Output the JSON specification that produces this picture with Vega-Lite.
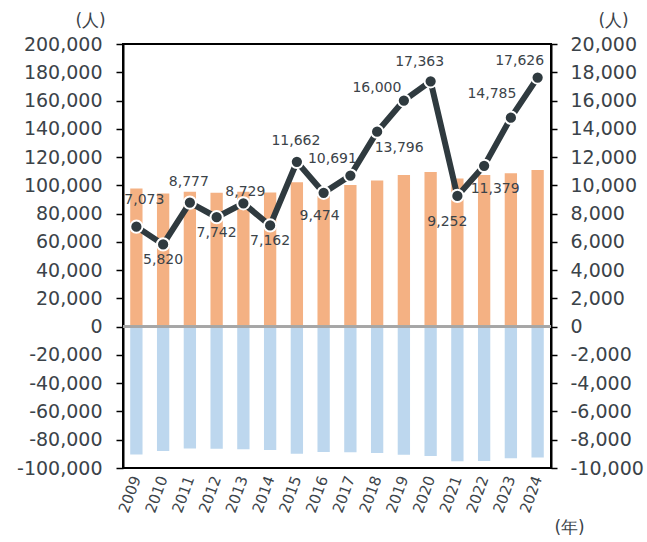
{
  "$schema": "https://vega.github.io/schema/vega-lite/v6.json",
  "width": 428,
  "height": 424,
  "autosize": {"type": "none"},
  "padding": {"left": 123, "top": 44, "right": 96, "bottom": 74},
  "config": {
    "view": {"stroke": "#000000", "strokeWidth": 2},
    "font": "DejaVu Sans",
    "axis": {"grid": false, "labelFont": "DejaVu Sans", "titleFont": "DejaVu Sans", "labelColor": "#3B4349", "titleColor": "#3B4349", "titleFontWeight": "normal"}
  },
  "data": {
    "values": [
      {"year": "2009", "inflow": 97800, "outflow": -90500, "net": 7073},
      {"year": "2010", "inflow": 94200, "outflow": -87900, "net": 5820},
      {"year": "2011", "inflow": 95400, "outflow": -86200, "net": 8777},
      {"year": "2012", "inflow": 94700, "outflow": -86400, "net": 7742},
      {"year": "2013", "inflow": 95400, "outflow": -86700, "net": 8729},
      {"year": "2014", "inflow": 94900, "outflow": -87200, "net": 7162},
      {"year": "2015", "inflow": 102100, "outflow": -90000, "net": 11662},
      {"year": "2016", "inflow": 92500, "outflow": -88600, "net": 9474},
      {"year": "2017", "inflow": 100200, "outflow": -88800, "net": 10691},
      {"year": "2018", "inflow": 103500, "outflow": -89300, "net": 13796},
      {"year": "2019", "inflow": 107300, "outflow": -90700, "net": 16000},
      {"year": "2020", "inflow": 109400, "outflow": -91500, "net": 17363},
      {"year": "2021", "inflow": 104900, "outflow": -95200, "net": 9252},
      {"year": "2022", "inflow": 107300, "outflow": -95000, "net": 11379},
      {"year": "2023", "inflow": 108500, "outflow": -93100, "net": 14785},
      {"year": "2024", "inflow": 110800, "outflow": -92600, "net": 17626}
    ]
  },
  "encoding": {
    "x": {
      "field": "year", "type": "nominal", "sort": null,
      "scale": {"paddingInner": 0.54, "paddingOuter": 0.27},
      "axis": {
        "orient": "bottom", "title": "(年)", "labelAngle": -70, "labelFontSize": 15,
        "labelAlign": "right", "labelBaseline": "middle", "labelPadding": 8,
        "ticks": false, "domain": false,
        "titleFontSize": 17, "titleAngle": 0, "titleAnchor": null, "titleX": 446, "titleY": 59,
        "titleAlign": "center", "titleBaseline": "middle"
      }
    }
  },
  "layer": [
    {
      "encoding": {
        "y": {
          "type": "quantitative",
          "scale": {"domain": [-100000, 200000], "nice": false, "zero": false},
          "axis": {
            "orient": "left", "title": "(人)",
            "values": [-100000, -80000, -60000, -40000, -20000, 0, 20000, 40000, 60000, 80000, 100000, 120000, 140000, 160000, 180000, 200000],
            "labelExpr": "replace(format(datum.value, ','), '−', '-')",
            "labelFontSize": 19, "labelPadding": 14, "labelFlush": false, "labelOverlap": false,
            "domainColor": "#000000", "domainWidth": 2, "tickColor": "#000000", "tickSize": 7, "tickWidth": 1.5,
            "titleAngle": 0, "titleFontSize": 17, "titleX": -33, "titleY": -24, "titleAlign": "center", "titleBaseline": "middle"
          }
        }
      },
      "layer": [
        {"mark": {"type": "bar", "color": "#F4B183"}, "encoding": {"y": {"field": "inflow", "type": "quantitative"}}},
        {"mark": {"type": "bar", "color": "#BDD7EE"}, "encoding": {"y": {"field": "outflow", "type": "quantitative"}}},
        {"mark": {"type": "rule", "color": "#A6A6A6", "strokeWidth": 2}, "encoding": {"y": {"datum": 0, "type": "quantitative"}, "x": {"value": 0}, "x2": {"value": 428}}}
      ]
    },
    {
      "encoding": {
        "y": {
          "field": "net", "type": "quantitative",
          "scale": {"domain": [-10000, 20000], "nice": false, "zero": false},
          "axis": {
            "orient": "right", "title": "(人)",
            "values": [-10000, -8000, -6000, -4000, -2000, 0, 2000, 4000, 6000, 8000, 10000, 12000, 14000, 16000, 18000, 20000],
            "labelExpr": "replace(format(datum.value, ','), '−', '-')",
            "labelFontSize": 19, "labelPadding": 13, "labelFlush": false, "labelOverlap": false,
            "domainColor": "#000000", "domainWidth": 2, "tickColor": "#000000", "tickSize": 6, "tickWidth": 1.5,
            "titleAngle": 0, "titleFontSize": 17, "titleX": 62, "titleY": -24, "titleAlign": "center", "titleBaseline": "middle"
          }
        }
      },
      "layer": [
        {"mark": {"type": "line", "color": "#2F3A3F", "strokeWidth": 6}},
        {"mark": {"type": "point", "filled": true, "color": "#2F3A3F", "size": 150, "stroke": "#FFFFFF", "strokeWidth": 2, "opacity": 1, "strokeOpacity": 1}},
        {"transform": [{"filter": "datum.year == '2011' || datum.year == '2015'"}], "mark": {"type": "text", "fontSize": 14, "color": "#3B4349", "dx": -1, "dy": -21}, "encoding": {"text": {"field": "net", "format": ","}}},
        {"transform": [{"filter": "datum.year == '2010' || datum.year == '2014' || datum.year == '2012'"}], "mark": {"type": "text", "fontSize": 14, "color": "#3B4349", "dx": 0, "dy": 16}, "encoding": {"text": {"field": "net", "format": ","}}},
        {"transform": [{"filter": "datum.year == '2009'"}], "mark": {"type": "text", "fontSize": 14, "color": "#3B4349", "dx": 8, "dy": -27}, "encoding": {"text": {"field": "net", "format": ","}}},
        {"transform": [{"filter": "datum.year == '2013'"}], "mark": {"type": "text", "fontSize": 14, "color": "#3B4349", "dx": 2, "dy": -11}, "encoding": {"text": {"field": "net", "format": ","}}},
        {"transform": [{"filter": "datum.year == '2016'"}], "mark": {"type": "text", "fontSize": 14, "color": "#3B4349", "dx": -4, "dy": 23}, "encoding": {"text": {"field": "net", "format": ","}}},
        {"transform": [{"filter": "datum.year == '2017' || datum.year == '2024'"}], "mark": {"type": "text", "fontSize": 14, "color": "#3B4349", "dx": -18, "dy": -17}, "encoding": {"text": {"field": "net", "format": ","}}},
        {"transform": [{"filter": "datum.year == '2018'"}], "mark": {"type": "text", "fontSize": 14, "color": "#3B4349", "dx": 22, "dy": 16}, "encoding": {"text": {"field": "net", "format": ","}}},
        {"transform": [{"filter": "datum.year == '2019'"}], "mark": {"type": "text", "fontSize": 14, "color": "#3B4349", "dx": -27, "dy": -13}, "encoding": {"text": {"field": "net", "format": ","}}},
        {"transform": [{"filter": "datum.year == '2020'"}], "mark": {"type": "text", "fontSize": 14, "color": "#3B4349", "dx": -11, "dy": -19}, "encoding": {"text": {"field": "net", "format": ","}}},
        {"transform": [{"filter": "datum.year == '2021'"}], "mark": {"type": "text", "fontSize": 14, "color": "#3B4349", "dx": -10, "dy": 26}, "encoding": {"text": {"field": "net", "format": ","}}},
        {"transform": [{"filter": "datum.year == '2022'"}], "mark": {"type": "text", "fontSize": 14, "color": "#3B4349", "dx": 11, "dy": 23}, "encoding": {"text": {"field": "net", "format": ","}}},
        {"transform": [{"filter": "datum.year == '2023'"}], "mark": {"type": "text", "fontSize": 14, "color": "#3B4349", "dx": -19, "dy": -24}, "encoding": {"text": {"field": "net", "format": ","}}}
      ]
    }
  ],
  "resolve": {"scale": {"y": "independent"}}
}
